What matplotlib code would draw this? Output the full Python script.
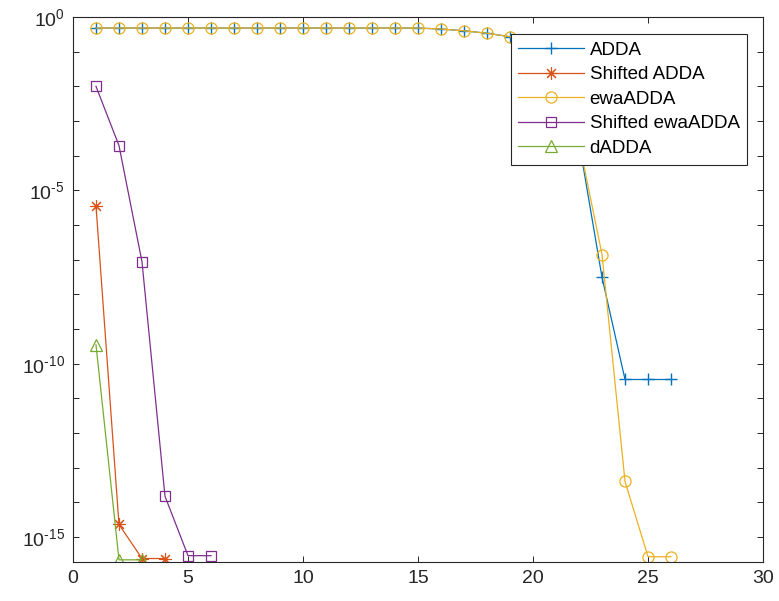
import matplotlib.pyplot as plt

plt.rcParams["font.family"] = ["Liberation Sans", "DejaVu Sans"]
plt.rcParams["mathtext.fontset"] = "custom"
plt.rcParams["mathtext.rm"] = "Liberation Sans"
plt.rcParams["mathtext.it"] = "Liberation Sans"

# residual histories per iteration
adda_iter = list(range(1, 27))
adda = [0.48] * 15 + [0.45, 0.40, 0.34, 0.27, 0.18, 3.0e-2, 2.5e-4, 3.1e-8,
                      3.5e-11, 3.5e-11, 3.5e-11]
ewa_iter = list(range(1, 27))
ewa = [0.48] * 15 + [0.45, 0.40, 0.34, 0.27, 0.18, 3.0e-2, 2.5e-4, 1.4e-7,
                     4.0e-14, 2.7e-16, 2.7e-16]
shifted_adda_iter = [1, 2, 3, 4]
shifted_adda = [3.6e-6, 2.3e-15, 2.4e-16, 2.4e-16]
shifted_ewa_iter = [1, 2, 3, 4, 5, 6]
shifted_ewa = [1.0e-2, 1.95e-4, 8.7e-8, 1.5e-14, 2.9e-16, 2.9e-16]
dadda_iter = [1, 2, 3]
dadda = [3.5e-10, 2.2e-16, 2.2e-16]

colors = ["#0072BD", "#D95319", "#EDB120", "#7E2F8E", "#77AC30"]
ink = "#262626"
asterisk = (8, 2, 0)

fig = plt.figure(figsize=(7.79, 6.01), dpi=100)
ax = fig.add_axes([0.0937, 0.0649, 0.8858, 0.9068])

lw = 0.9
ax.semilogy(adda_iter, adda, "-+", color=colors[0], lw=lw, ms=9, mew=1.0, label="ADDA")
ax.semilogy(shifted_adda_iter, shifted_adda, "-", marker=asterisk, color=colors[1],
            lw=lw, ms=9, mew=0.8, label="Shifted ADDA")
ax.semilogy(ewa_iter, ewa, "-o", color=colors[2], lw=lw, ms=8, mew=0.9,
            mfc="none", label="ewaADDA")
ax.semilogy(shifted_ewa_iter, shifted_ewa, "-s", color=colors[3], lw=lw, ms=7.5,
            mew=0.9, mfc="none", label="Shifted ewaADDA")
ax.semilogy(dadda_iter, dadda, "-^", color=colors[4], lw=lw, ms=8.5, mew=0.9,
            mfc="none", label="dADDA")

ax.set_xlim(0, 30)
ax.set_ylim(10 ** -15.72, 1)
ax.set_xticks(range(0, 31, 5))
decades = [10.0 ** k for k in range(-15, 1)]
ax.set_yticks(decades)
labels = []
for k in range(-15, 1):
    if k % 5:
        labels.append("")
    elif k < 0:
        labels.append(r"$10^{\text{-%d}}$" % -k)
    else:
        labels.append(r"$10^{%d}$" % k)
ax.set_yticklabels(labels)
ax.minorticks_off()
ax.tick_params(direction="in", length=4.5, width=0.7, top=True, right=True,
               labelsize=14, colors=ink, pad=6)
for s in ax.spines.values():
    s.set_color(ink)
    s.set_linewidth(0.8)

leg = ax.legend(loc="upper right", bbox_to_anchor=(0.977, 0.969), borderaxespad=0,
                fontsize=13.5, handlelength=3.5, fancybox=False, framealpha=1,
                edgecolor=ink, labelspacing=0.4, borderpad=0.4, handletextpad=0.3)
leg.get_frame().set_linewidth(0.8)

fig.savefig("out.png", dpi=100)
